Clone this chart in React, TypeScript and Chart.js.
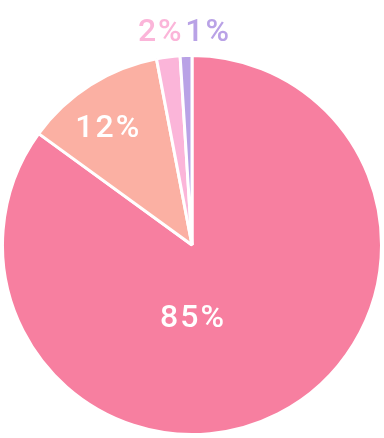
import React, { useEffect, useRef } from "react";
import { Chart, registerables } from "chart.js";

Chart.register(...registerables);

const categories = ["A", "B", "C", "D"];
const values = [85, 12, 2, 1];
const labels = ["85%", "12%", "2%", "1%"];
const colors = ["#F77FA0", "#FBB0A3", "#FBB5D9", "#B9A2E6"];
const labelColors = ["#FFFFFF", "#FFFFFF", "#FBB5D9", "#B9A2E6"];
// label placement relative to pie center, in units of the radius
const labelDx = [0, -0.447, -0.17, 0.08];
const labelDy = [0.39, -0.61, -1.12, -1.12];

const labelPlugin = {
  id: "pctLabels",
  afterDatasetsDraw(chart: any) {
    const ctx = chart.ctx;
    const meta = chart.getDatasetMeta(0);
    ctx.save();
    ctx.font = "500 32px Roboto, 'Noto Sans', sans-serif";
    (ctx as any).letterSpacing = "2px";
    ctx.textAlign = "center";
    ctx.textBaseline = "middle";
    meta.data.forEach((arc: any, i: number) => {
      const r = arc.outerRadius;
      const x = arc.x + labelDx[i] * r;
      const y = arc.y + labelDy[i] * r;
      ctx.fillStyle = labelColors[i];
      ctx.fillText(labels[i], x + 1, y);
    });
    ctx.restore();
  },
};

export default function App() {
  const ref = useRef<HTMLCanvasElement>(null);
  useEffect(() => {
    const chart = new Chart(ref.current!, {
      type: "pie",
      data: {
        labels: categories,
        datasets: [
          {
            data: values,
            backgroundColor: colors,
            borderColor: "#FFFFFF",
            borderWidth: 3,
          },
        ],
      },
      options: {
        responsive: false,
        animation: false,
        layout: { padding: { top: 54, bottom: 2, left: 1, right: 1 } },
        plugins: { legend: { display: false }, tooltip: { enabled: false } },
      },
      plugins: [labelPlugin],
    });
    return () => chart.destroy();
  }, []);
  return (
    <div style={{ position: "fixed", left: 0, top: 0, width: 384, height: 438, background: "#fff" }}>
      <canvas ref={ref} width={384} height={438} />
    </div>
  );
}
